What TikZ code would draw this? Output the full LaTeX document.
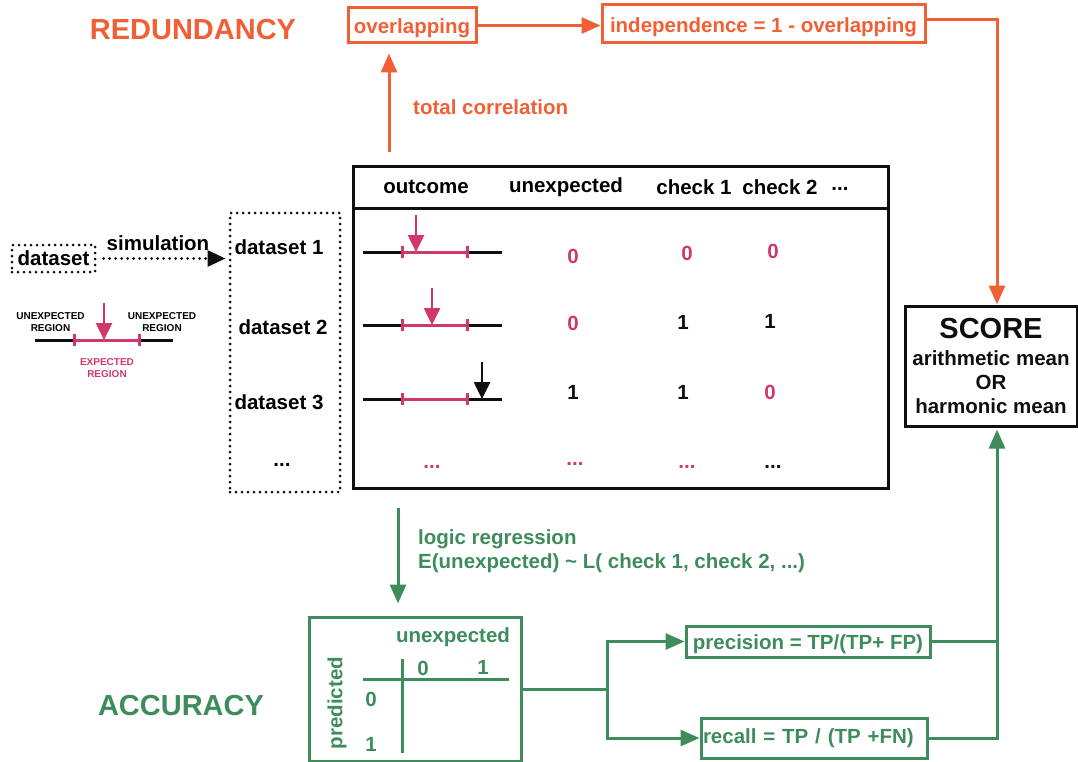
\documentclass[tikz,border=0pt]{standalone}
\usepackage{fontspec}
\setmainfont{Liberation Sans}
\usetikzlibrary{arrows.meta}
\definecolor{RedundOrange}{RGB}{240,96,52}
\definecolor{AccGreen}{RGB}{62,140,92}
\definecolor{RegionPink}{RGB}{208,56,108}
\definecolor{InkBlack}{RGB}{15,15,15}
\newcommand{\tdots}{...}

\tikzset{
  txt/.style={font=\bfseries\fontsize{20.5}{24}\selectfont, inner sep=0pt},
  bigtxt/.style={font=\bfseries\fontsize{29}{31}\selectfont, inner sep=0pt},
  tinytxt/.style={font=\bfseries\fontsize{10}{11.5}\selectfont, inner sep=0pt, align=center},
  obox/.style={draw=RedundOrange, line width=3pt, text=RedundOrange, txt, text height=18pt, text depth=1.5pt},
  gbox/.style={draw=AccGreen, line width=3pt, text=AccGreen, txt},
  kbox/.style={draw=InkBlack, line width=3pt, text=InkBlack, txt},
  dbox/.style={draw=InkBlack, line width=3pt, line cap=round, dash pattern=on 0pt off 6pt, txt},
  oarrow/.style={draw=RedundOrange, line width=3pt, -{Triangle[length=19pt,width=16pt]}},
  garrow/.style={draw=AccGreen, line width=3pt, -{Triangle[length=19pt,width=16pt]}},
  gline/.style={draw=AccGreen, line width=3pt},
  darrow/.style={draw=InkBlack, line width=3pt, line cap=round, dash pattern=on 0pt off 6pt,
    -{Triangle[length=18pt,width=16pt]}},
  axisline/.style={draw=InkBlack, line width=3pt},
  regionline/.style={draw=RegionPink, line width=3pt},
  ptr/.style={line width=2.6pt, -{Triangle[length=17pt,width=16pt]}}
}

\begin{document}
\begin{tikzpicture}[x=1pt,y=-1pt]
\useasboundingbox (0,0) rectangle (1078,762);

% --- redundancy branch
\node[bigtxt, text=RedundOrange] (redund) at (193,30) {REDUNDANCY};
\node[obox, minimum width=128pt, minimum height=35pt] (overlap) at (412,25.5) {overlapping};
\node[obox, minimum width=323pt, minimum height=38pt] (indep) at (763.5,24) {independence = 1 - overlapping};
\coordinate (tcstart) at (389,152);
\node[txt, text=RedundOrange, anchor=west] (tclabel) at (413,107) {total correlation};

% --- simulated data
\node[dbox, minimum width=83pt, minimum height=27pt] (dset) at (53.5,258.5) {dataset};
\node[dbox, minimum width=110pt, minimum height=279pt] (dsets) at (285,352.5) {};
\node[txt] (simlabel) at (158,243) {simulation};
\node[txt] (ds1) at (279,247) {dataset 1};
\node[txt] (ds2) at (283,327) {dataset 2};
\node[txt] (ds3) at (279,402) {dataset 3};
\node[txt] (dsmore) at (282,465) {\tdots};

% --- legend
\draw[axisline] (35,340) -- (173,340);
\draw[regionline] (74,340) -- (139,340);
\draw[regionline] (74,334) -- (74,346) (139,334) -- (139,346);
\draw[ptr, draw=RegionPink, fill=RegionPink] (104,303) -- (104,340);
\node[tinytxt] (unexpl) at (50.5,322) {UNEXPECTED\\REGION};
\node[tinytxt] (unexpr) at (162,322) {UNEXPECTED\\REGION};
\node[tinytxt, text=RegionPink] (expreg) at (107,368) {EXPECTED\\REGION};

% --- data table
\node[kbox, minimum width=535pt, minimum height=321pt] (table) at (620.5,327.5) {};
\draw[axisline] (353,208) -- (890,208);
\node[txt] (hout) at (426,187) {outcome};
\node[txt] (hunexp) at (566,187) {unexpected};
\node[txt] (hc1) at (694,187) {check 1};
\node[txt] (hc2) at (780,187) {check 2};
\node[txt] (hmore) at (840,189) {\tdots};

\foreach \ry/\ax/\ac in {252/416/RegionPink, 325/432/RegionPink, 399/482/InkBlack} {
  \draw[axisline] (363,\ry) -- (502,\ry);
  \draw[regionline] (402,\ry) -- (467,\ry);
  \draw[regionline] (402,\ry-6) -- (402,\ry+6) (467,\ry-6) -- (467,\ry+6);
  \draw[ptr, draw=\ac, fill=\ac] (\ax,\ry-37) -- (\ax,\ry);
}

\foreach \vx/\vy/\vt/\vc in {573/256/0/RegionPink, 687/253/0/RegionPink, 773/251/0/RegionPink,
  573/323/0/RegionPink, 683/322/1/InkBlack, 770/321/1/InkBlack,
  573/392/1/InkBlack, 683/392/1/InkBlack, 770/392/0/RegionPink,
  432/467/\tdots/RegionPink, 575/464/\tdots/RegionPink, 687/467/\tdots/RegionPink, 773/467/\tdots/InkBlack}
  \node[txt, text=\vc] at (\vx,\vy) {\vt};

% --- score
\node[kbox, minimum width=172pt, minimum height=120pt, align=center] (score) at (991,366)
  {{\fontsize{29}{31}\selectfont SCORE}\\[3pt]arithmetic mean\\OR\\harmonic mean};

% --- accuracy branch
\node[bigtxt, text=AccGreen] (accur) at (181,706) {ACCURACY};
\coordinate (lrstart) at (398,508);
\node[txt, text=AccGreen, anchor=west, align=left] (lrlabel) at (418,551)
  {logic regression\\E(unexpected) \textasciitilde{} L( check 1, check 2, \tdots)};
\node[gbox, minimum width=212pt, minimum height=144pt] (conf) at (415,689) {};
\node[txt, text=AccGreen] (cunexp) at (453,637) {unexpected};
\node[txt, text=AccGreen, rotate=90] (cpred) at (337,703) {predicted};
\node[txt, text=AccGreen] (cu0) at (423,668) {0};
\node[txt, text=AccGreen] (cu1) at (483,667) {1};
\node[txt, text=AccGreen] (cp0) at (371,699) {0};
\node[txt, text=AccGreen] (cp1) at (371,744) {1};
\draw[gline] (402,659) -- (402,753);
\draw[gline] (363,679) -- (509,679);

\node[gbox, minimum width=244pt, minimum height=31pt, text height=17pt, text depth=2pt] (prec) at (808,641.5)
  {precision = TP/(TP+ FP)};
\node[gbox, minimum height=40pt, text width=222pt, inner xsep=2pt, align=left] (recall) at (814,738)
  {recall = TP / (TP +FN)};
\coordinate (split) at (607,689);
\coordinate (gjoin) at ([xshift=6pt,yshift=-2pt]score.south);

% --- connectors
\draw[oarrow] (tcstart) -- ([yshift=-9pt]overlap.south -| tcstart);
\draw[oarrow] (overlap) -- (overlap -| indep.west);
\draw[oarrow] ([yshift=4pt]indep.east) -| ([xshift=6pt]score.north);
\draw[darrow] ([xshift=7pt]dset.east) -- ([xshift=-3pt]dsets.west |- dset);
\draw[garrow] (lrstart) -- ([yshift=12pt]conf.north -| lrstart);
\draw[gline] (conf.east) -- (split);
\draw[garrow] (split) |- (prec.west);
\draw[garrow] (split) |- (recall.west);
\draw[garrow] (recall.east) -| (gjoin);
\draw[gline] (prec.east) -- (prec.east -| gjoin);
\end{tikzpicture}
\end{document}
